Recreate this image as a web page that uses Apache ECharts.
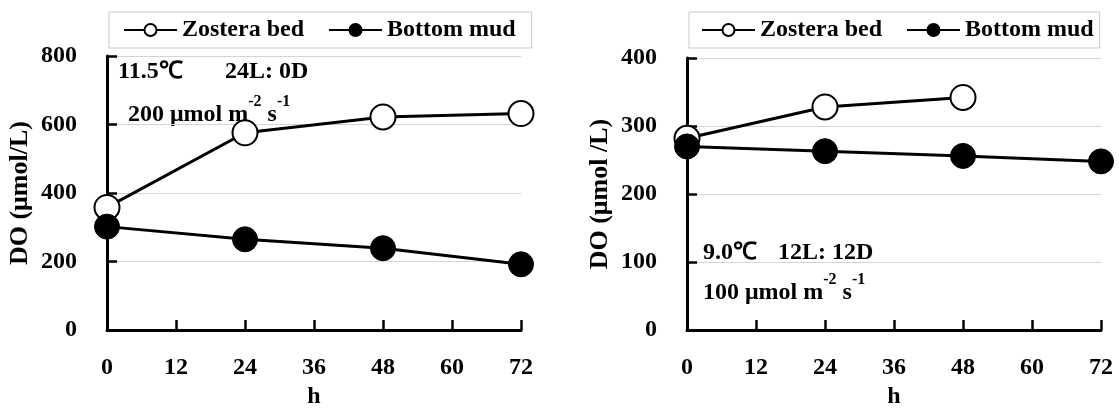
<!DOCTYPE html>
<html>
<head>
<meta charset="utf-8">
<script src="https://cdn.jsdelivr.net/npm/echarts@6/dist/echarts.min.js"></script>
<style>
html,body{margin:0;padding:0;background:#fff;}
#chart{width:1119px;height:414px;}
</style>
</head>
<body>
<div id="chart"></div>
<script>
// ---- data ----
const hours = [0, 24, 48, 72];
const leftZostera = [358, 576, 622, 632];
const leftMud = [302, 265, 239, 192];
const rightZosteraHours = [0, 24, 48];
const rightZostera = [282, 328, 342];
const rightMud = [270, 263, 256, 248];
const seriesNames = ['Zostera bed', 'Bottom mud'];
const xTicks = {min: 0, max: 72, interval: 12};
const leftY = {min: 0, max: 800, interval: 200};
const rightY = {min: 0, max: 400, interval: 100};
const yNames = ['DO (μmol/L)', 'DO (μmol /L)'];
const xName = 'h';
const leftNotes = ['11.5℃', '24L: 0D', '200 μmol m', '-2', ' s', '-1'];
const rightNotes = ['9.0℃', '12L: 12D', '100 μmol m', '-2', ' s', '-1'];

const FONT = "'Liberation Serif','Times New Roman',serif";
const pairs = (xs, ys) => xs.map((x, i) => [x, ys[i]]);

function xAxis(gi) {
  return {
    gridIndex: gi, type: 'value', min: xTicks.min, max: xTicks.max, interval: xTicks.interval,
    name: xName, nameLocation: 'middle', nameGap: 51,
    nameTextStyle: {fontFamily: FONT, fontWeight: 'bold', fontSize: 24, color: '#000'},
    axisLine: {show: true, lineStyle: {color: '#000', width: 3}},
    axisTick: {show: true, inside: true, length: 10, lineStyle: {color: '#000', width: 2.5}},
    axisLabel: {margin: 26, fontFamily: FONT, fontWeight: 'bold', fontSize: 24, color: '#000'},
    splitLine: {show: false}
  };
}
function yAxis(gi, cfg, name) {
  return {
    gridIndex: gi, type: 'value', min: cfg.min, max: cfg.max, interval: cfg.interval,
    name: name, nameLocation: 'middle', nameGap: 74, nameRotate: 90,
    nameTextStyle: {fontFamily: FONT, fontWeight: 'bold', fontSize: 26, color: '#000'},
    axisLine: {show: true, lineStyle: {color: '#000', width: 3}},
    axisTick: {show: true, inside: true, length: 10, lineStyle: {color: '#000', width: 2.5}},
    axisLabel: {margin: 30, fontFamily: FONT, fontWeight: 'bold', fontSize: 24, color: '#000'},
    splitLine: {show: true, lineStyle: {color: '#d4d4d4', width: 1}}
  };
}
function lineSeries(name, gi, data, hollow) {
  return {
    name: name, type: 'line', xAxisIndex: gi, yAxisIndex: gi, data: data,
    symbol: 'circle', symbolSize: 25,
    lineStyle: {color: '#000', width: 3},
    itemStyle: hollow ? {color: '#fff', borderColor: '#000', borderWidth: 2}
                      : {color: '#000', borderColor: '#000', borderWidth: 1},
    z: hollow ? 2 : 3
  };
}
function legend(left, padLeft, padRight) {
  return {
    left: left, top: 12, orient: 'horizontal',
    padding: [6, padRight, 6, padLeft],
    borderColor: '#c8c8c8', borderWidth: 1,
    itemWidth: 53, itemHeight: 15, itemGap: 24,
    textStyle: {fontFamily: FONT, fontWeight: 'bold', fontSize: 24, color: '#000'},
    data: seriesNames
  };
}
function note(x, y, t) {
  return {type: 'text', x: x, y: y, style: {text: t, font: 'bold 24px ' + FONT, fill: '#000', verticalAlign: 'middle', align: 'left'}};
}
function richNote(x, y, n) {
  return {
    type: 'text', x: x, y: y,
    style: {
      text: '{a|' + n[2] + '}{s|' + n[3] + '}{a|' + n[4] + '}{s|' + n[5] + '}',
      verticalAlign: 'middle', align: 'left',
      rich: {
        a: {fontFamily: FONT, fontWeight: 'bold', fontSize: 24, fill: '#000', color: '#000'},
        s: {fontFamily: FONT, fontWeight: 'bold', fontSize: 16, fill: '#000', color: '#000', padding: [0, 0, 26, 0]}
      }
    }
  };
}

const chart = echarts.init(document.getElementById('chart'), null, {renderer: 'canvas'});
chart.setOption({
  animation: false,
  backgroundColor: '#fff',
  grid: [
    {left: 107, top: 56, width: 414, height: 285},
    {left: 687, top: 58, width: 414, height: 279}
  ],
  legend: [legend(109, 14, 16), legend(689, 12, 6)],
  xAxis: [xAxis(0), xAxis(1)],
  yAxis: [yAxis(0, leftY, yNames[0]), yAxis(1, rightY, yNames[1])],
  series: [
    lineSeries(seriesNames[0], 0, pairs(hours, leftZostera), true),
    lineSeries(seriesNames[1], 0, pairs(hours, leftMud), false),
    lineSeries(seriesNames[0], 1, pairs(rightZosteraHours, rightZostera), true),
    lineSeries(seriesNames[1], 1, pairs(hours, rightMud), false)
  ],
  graphic: [
    note(118, 72, leftNotes[0]), note(225, 72, leftNotes[1]), richNote(128, 115, leftNotes),
    note(703, 253, rightNotes[0]), note(778, 253, rightNotes[1]), richNote(703, 293, rightNotes)
  ]
});
</script>
</body>
</html>
